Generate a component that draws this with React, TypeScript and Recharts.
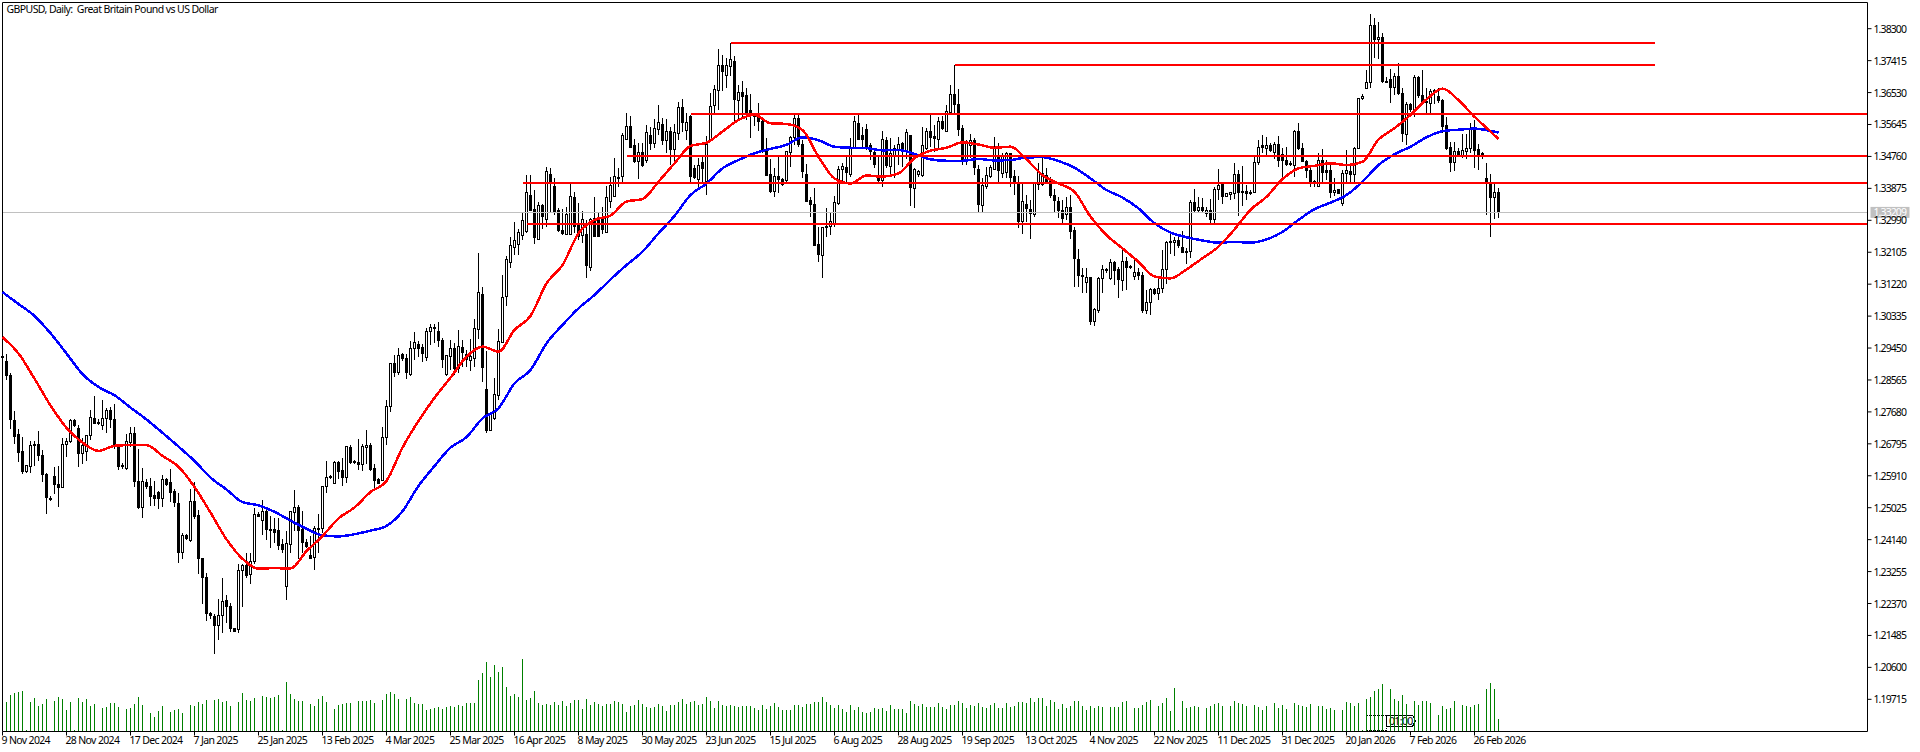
import React from 'react'
import {
  Bar,
  ComposedChart,
  Line,
  ReferenceLine,
  XAxis,
  YAxis,
} from 'recharts'

// all prices in 1/10000 of a dollar
const highs = [
  12923,12928,12875,12770,12720,12698,12620,12686,12687,12714,
  12662,12598,12535,12616,12618,12695,12696,12749,12749,12731,
  12697,12703,12773,12812,12747,12801,12780,12782,12789,12678,
  12627,12706,12727,12727,12666,12613,12581,12586,12576,12549,
  12593,12586,12611,12553,12542,12433,12431,12553,12575,12495,
  12364,12321,12213,12207,12249,12308,12260,12239,12170,12346,
  12346,12376,12378,12502,12491,12524,12503,12480,12475,12475,
  12415,12438,12491,12552,12509,12493,12415,12424,12452,12484,
  12564,12632,12592,12632,12632,12639,12672,12675,12634,12692,
  12678,12718,12683,12623,12586,12727,12801,12903,12926,12944,
  12930,12928,12965,12989,12965,12956,13000,13012,13012,13017,
  12972,12923,12967,12958,12995,12967,12940,12969,13025,13207,
  13115,12937,12769,12863,12997,13147,13200,13252,13293,13274,
  13318,13424,13424,13383,13350,13344,13446,13445,13415,13332,
  13329,13337,13399,13378,13346,13326,13300,13304,13364,13318,
  13335,13394,13420,13471,13443,13540,13595,13588,13523,13512,
  13512,13563,13558,13581,13618,13583,13581,13558,13566,13628,
  13634,13595,13591,13452,13473,13475,13533,13651,13674,13773,
  13757,13748,13790,13754,13674,13685,13665,13648,13595,13623,
  13586,13526,13469,13443,13480,13415,13489,13533,13591,13591,
  13521,13455,13364,13388,13281,13281,13332,13318,13366,13450,
  13459,13475,13526,13588,13591,13558,13566,13512,13498,13475,
  13546,13531,13526,13508,13531,13517,13551,13535,13443,13438,
  13558,13554,13591,13563,13584,13588,13618,13674,13729,13662,
  13562,13521,13538,13526,13452,13415,13448,13452,13531,13512,
  13485,13489,13486,13438,13422,13401,13369,13355,13406,13457,
  13475,13443,13420,13387,13364,13355,13363,13369,13281,13219,
  13166,13166,13143,13055,13141,13175,13168,13191,13186,13170,
  13217,13198,13175,13191,13168,13157,13106,13110,13110,13135,
  13217,13243,13263,13254,13255,13270,13221,13355,13385,13364,
  13360,13337,13358,13392,13441,13403,13376,13378,13457,13438,
  13449,13397,13383,13475,13521,13535,13529,13512,13517,13533,
  13498,13503,13464,13549,13568,13512,13466,13443,13411,13486,
  13496,13466,13457,13415,13387,13438,13494,13457,13503,13639,
  13648,13716,13870,13861,13849,13817,13697,13717,13706,13734,
  13665,13628,13623,13702,13699,13715,13665,13662,13662,13665,
  13635,13586,13517,13517,13498,13538,13538,13568,13577,13510,
  13489,13457,13427,13400,13388,
]

const lows = [
  12914,12856,12720,12678,12629,12597,12600,12600,12618,12631,
  12575,12486,12521,12541,12505,12559,12643,12683,12726,12616,
  12625,12632,12689,12737,12731,12718,12710,12724,12666,12607,
  12609,12607,12672,12560,12500,12475,12553,12507,12507,12500,
  12505,12564,12518,12505,12350,12361,12413,12408,12470,12318,
  12237,12188,12195,12098,12136,12156,12182,12159,12158,12156,
  12228,12307,12291,12346,12477,12426,12413,12392,12406,12385,
  12378,12247,12378,12438,12361,12378,12391,12361,12330,12378,
  12433,12544,12581,12570,12581,12564,12572,12623,12625,12606,
  12604,12623,12604,12558,12567,12576,12677,12769,12864,12871,
  12910,12860,12868,12912,12921,12907,12910,12953,12958,12949,
  12889,12868,12884,12870,12875,12893,12893,12880,12893,12969,
  12852,12709,12715,12745,12801,12960,13062,13166,13203,13203,
  13244,13265,13326,13233,13246,13274,13281,13323,13314,13267,
  13258,13258,13258,13263,13244,13235,13140,13159,13252,13252,
  13261,13263,13332,13364,13392,13403,13521,13498,13457,13413,
  13448,13457,13494,13500,13535,13508,13486,13452,13464,13521,
  13545,13521,13403,13413,13387,13406,13369,13517,13595,13605,
  13658,13665,13700,13572,13577,13586,13577,13526,13560,13547,
  13485,13424,13376,13364,13376,13394,13406,13448,13508,13503,
  13417,13351,13309,13228,13184,13140,13254,13258,13281,13341,
  13403,13403,13420,13497,13521,13498,13494,13466,13443,13403,
  13392,13443,13420,13415,13452,13448,13468,13339,13334,13420,
  13420,13494,13503,13489,13498,13549,13545,13595,13595,13533,
  13452,13452,13471,13425,13323,13320,13386,13415,13438,13405,
  13415,13415,13392,13369,13279,13261,13295,13248,13309,13383,
  13394,13406,13362,13318,13304,13291,13300,13248,13115,13115,
  13097,13098,13009,13007,13043,13097,13152,13133,13120,13085,
  13104,13106,13163,13133,13133,13043,13038,13036,13092,13078,
  13097,13122,13206,13200,13221,13207,13178,13194,13318,13318,
  13323,13309,13292,13291,13355,13343,13364,13355,13357,13311,
  13339,13355,13369,13374,13452,13485,13480,13489,13468,13448,
  13411,13450,13450,13420,13494,13460,13417,13392,13392,13392,
  13401,13411,13362,13367,13372,13339,13406,13406,13406,13496,
  13632,13663,13665,13748,13745,13680,13679,13625,13646,13647,
  13515,13508,13600,13586,13639,13618,13595,13595,13621,13623,
  13540,13494,13434,13436,13475,13473,13469,13485,13445,13438,
  13469,13314,13254,13303,13305,
]

const opens = [
  12919,12909,12868,12745,12706,12659,12604,12616,12674,12678,
  12648,12595,12529,12590,12567,12559,12678,12686,12745,12722,
  12652,12657,12703,12750,12738,12729,12749,12773,12748,12672,
  12620,12611,12683,12709,12576,12503,12572,12560,12535,12546,
  12527,12581,12572,12548,12515,12378,12426,12413,12521,12481,
  12363,12310,12208,12200,12175,12204,12244,12230,12169,12164,
  12329,12343,12317,12353,12485,12467,12491,12443,12441,12438,
  12401,12284,12401,12489,12504,12441,12407,12371,12364,12443,
  12444,12560,12586,12570,12629,12606,12586,12670,12630,12628,
  12623,12670,12676,12612,12581,12579,12697,12783,12901,12877,
  12926,12915,12873,12944,12955,12947,12918,12990,12999,12991,
  12967,12872,12921,12944,12889,12947,12914,12910,12916,12997,
  13092,12831,12716,12750,12813,12961,13089,13182,13224,13233,
  13256,13267,13369,13329,13247,13339,13302,13427,13394,13325,
  13272,13261,13261,13363,13291,13258,13261,13168,13304,13300,
  13304,13265,13351,13366,13417,13420,13523,13558,13506,13461,
  13487,13464,13535,13512,13551,13565,13521,13546,13494,13540,
  13612,13549,13588,13443,13412,13460,13406,13522,13616,13660,
  13729,13701,13725,13740,13631,13654,13646,13603,13586,13591,
  13572,13489,13427,13378,13420,13411,13408,13486,13529,13582,
  13510,13427,13353,13344,13232,13201,13281,13281,13289,13346,
  13440,13446,13425,13498,13566,13535,13551,13505,13486,13423,
  13408,13519,13448,13475,13494,13512,13489,13535,13387,13425,
  13423,13498,13546,13531,13523,13574,13546,13598,13648,13621,
  13554,13468,13506,13521,13441,13340,13392,13420,13441,13475,
  13429,13432,13485,13420,13399,13295,13344,13329,13316,13399,
  13399,13423,13406,13367,13352,13327,13316,13335,13270,13191,
  13146,13126,13141,13018,13050,13137,13163,13138,13182,13163,
  13132,13186,13170,13143,13155,13147,13048,13071,13106,13097,
  13110,13163,13237,13238,13244,13224,13212,13212,13349,13327,
  13335,13318,13327,13300,13385,13399,13366,13371,13374,13427,
  13379,13379,13376,13376,13459,13505,13497,13505,13486,13508,
  13482,13466,13457,13450,13546,13498,13463,13438,13407,13392,
  13465,13436,13436,13376,13383,13346,13429,13434,13426,13498,
  13636,13665,13681,13839,13799,13806,13685,13690,13667,13698,
  13651,13538,13620,13605,13696,13644,13628,13623,13658,13643,
  13632,13562,13502,13459,13491,13478,13491,13497,13551,13494,
  13485,13416,13401,13362,13376,
]

const closes = [
  12921,12868,12746,12701,12655,12604,12620,12675,12679,12648,
  12594,12530,12528,12566,12558,12678,12686,12745,12729,12652,
  12675,12703,12753,12737,12736,12750,12773,12746,12672,12618,
  12617,12685,12709,12574,12502,12576,12561,12533,12527,12527,
  12581,12567,12544,12516,12378,12426,12417,12521,12479,12361,
  12309,12209,12204,12175,12204,12243,12228,12168,12159,12329,
  12341,12316,12353,12484,12478,12491,12441,12438,12433,12399,
  12387,12404,12491,12504,12439,12406,12396,12363,12444,12444,
  12561,12586,12588,12629,12604,12586,12671,12629,12628,12622,
  12671,12675,12609,12579,12569,12698,12783,12901,12877,12925,
  12915,12877,12944,12961,12945,12930,12991,13002,13002,12965,
  12912,12923,12944,12889,12950,12934,12926,12921,13000,13099,
  12891,12716,12764,12815,12964,13086,13191,13228,13242,13266,
  13298,13377,13327,13252,13340,13309,13434,13406,13320,13270,
  13263,13314,13364,13281,13254,13300,13175,13300,13254,13254,
  13274,13363,13395,13420,13419,13533,13560,13500,13461,13487,
  13450,13543,13512,13554,13570,13520,13546,13494,13542,13612,
  13570,13571,13420,13417,13452,13443,13509,13614,13662,13727,
  13712,13727,13745,13634,13653,13641,13597,13591,13593,13574,
  13494,13424,13378,13420,13411,13397,13489,13529,13582,13508,
  13434,13351,13343,13230,13203,13279,13283,13295,13349,13440,
  13448,13431,13498,13572,13523,13523,13498,13489,13454,13408,
  13523,13452,13485,13498,13510,13494,13542,13389,13440,13434,
  13506,13546,13528,13526,13574,13554,13600,13648,13621,13551,
  13468,13512,13521,13445,13343,13396,13423,13445,13503,13436,
  13475,13485,13417,13406,13295,13351,13332,13318,13403,13434,
  13429,13406,13367,13353,13326,13304,13335,13267,13194,13146,
  13145,13141,13018,13053,13138,13163,13160,13182,13161,13134,
  13186,13168,13169,13154,13145,13048,13072,13106,13097,13110,
  13163,13238,13239,13242,13230,13210,13210,13349,13327,13335,
  13327,13326,13300,13385,13396,13364,13373,13376,13426,13376,
  13377,13373,13374,13460,13501,13502,13505,13492,13508,13464,
  13464,13454,13455,13546,13497,13462,13437,13404,13404,13465,
  13431,13431,13376,13382,13374,13429,13436,13427,13498,13637,
  13641,13681,13839,13799,13806,13683,13681,13667,13698,13650,
  13540,13620,13606,13696,13644,13623,13625,13655,13655,13630,
  13560,13498,13459,13490,13478,13493,13499,13554,13492,13478,
  13481,13403,13362,13376,13320,
]

const tickVolumes = [
  0,88,109,115,118,121,4,88,100,76,
  82,97,0,91,103,97,64,88,4,100,
  88,97,76,82,0,70,73,85,85,73,
  0,67,70,82,103,79,0,55,43,61,
  76,0,58,64,67,55,0,79,76,88,
  82,94,0,94,97,88,91,76,0,88,
  115,94,91,100,0,106,103,100,103,109,
  4,148,112,97,91,91,0,82,76,97,
  106,88,0,67,79,82,85,85,0,91,
  91,91,94,85,0,94,112,118,112,97,
  0,97,103,85,82,82,64,67,70,73,
  67,73,76,73,79,76,85,85,85,154,
  175,208,163,199,178,193,133,106,112,103,
  217,94,100,121,85,79,82,79,88,79,
  91,76,85,94,94,67,97,79,88,82,
  76,82,82,91,88,82,58,76,79,94,
  82,73,70,73,82,76,61,79,79,88,
  97,82,88,91,79,82,103,91,70,91,
  79,76,79,76,73,76,76,76,70,64,
  79,67,76,85,73,64,64,64,79,79,
  73,82,82,88,88,103,88,79,70,79,
  67,58,79,64,73,58,55,58,70,67,
  70,61,79,67,67,67,55,91,82,76,
  82,73,73,73,85,73,67,79,79,91,
  85,70,79,76,85,73,70,79,85,70,
  70,85,73,76,88,88,85,100,88,100,
  100,76,94,88,67,82,70,76,91,91,
  76,64,76,70,76,73,0,73,73,73,
  88,91,0,70,70,79,88,94,0,76,
  85,100,61,130,4,91,70,73,76,73,
  0,70,76,82,85,76,0,76,91,85,
  82,76,0,79,73,64,76,0,85,70,
  79,67,0,85,79,76,73,82,0,76,
  76,67,70,64,0,64,88,85,76,85,
  4,97,103,121,127,142,0,127,97,91,
  109,82,0,91,79,91,91,85,0,49,
  76,67,70,91,0,79,76,73,79,82,
  0,127,145,127,37,
]

// moving averages, read at every fourth bar and at the last one
const redAverage = [
  12975,12930,12860,12786,12724,12683,12660,12674,12676,12676,
  12646,12616,12560,12489,12415,12361,12334,12335,12334,12382,
  12424,12473,12503,12546,12577,12669,12743,12807,12863,12921,
  12949,12935,12995,13034,13124,13175,13263,13300,13312,13351,
  13358,13406,13457,13505,13514,13545,13577,13591,13568,13566,
  13549,13475,13415,13401,13423,13420,13429,13471,13492,13500,
  13515,13509,13500,13503,13468,13424,13401,13378,13309,13258,
  13221,13184,13143,13138,13163,13194,13226,13274,13328,13364,
  13413,13443,13450,13457,13452,13461,13523,13554,13591,13634,
  13664,13632,13586,13545,13524,
]

const blueAverage = [
  13100,13067,13034,12986,12930,12873,12837,12814,12780,12747,
  12710,12672,12632,12586,12553,12518,12509,12491,12467,12444,
  12426,12423,12429,12439,12452,12493,12563,12618,12669,12698,
  12750,12778,12847,12884,12958,13009,13055,13092,13135,13175,
  13212,13263,13311,13369,13401,13443,13466,13485,13497,13508,
  13529,13521,13503,13500,13499,13493,13494,13483,13468,13464,
  13464,13469,13465,13466,13473,13474,13463,13445,13415,13383,
  13362,13332,13291,13265,13252,13243,13237,13239,13237,13246,
  13267,13300,13330,13348,13369,13406,13452,13482,13503,13529,
  13546,13550,13553,13547,13542,
]

const dateLabels = [
  '9 Nov 2024', '28 Nov 2024', '17 Dec 2024', '7 Jan 2025', '25 Jan 2025',
  '13 Feb 2025', '4 Mar 2025', '25 Mar 2025', '16 Apr 2025', '8 May 2025',
  '30 May 2025', '23 Jun 2025', '15 Jul 2025', '6 Aug 2025', '28 Aug 2025',
  '19 Sep 2025', '13 Oct 2025', '4 Nov 2025', '22 Nov 2025', '11 Dec 2025',
  '31 Dec 2025', '20 Jan 2026', '7 Feb 2026', '26 Feb 2026',
]

const priceTicks = [
  1.383, 1.37415, 1.3653, 1.35645, 1.3476, 1.33875, 1.3299, 1.32105, 1.3122,
  1.30335, 1.2945, 1.28565, 1.2768, 1.26795, 1.2591, 1.25025, 1.2414, 1.23255,
  1.2237, 1.21485, 1.206, 1.19715,
]

// support / resistance levels: price, first bar, last bar
const levels = [
  { price: 1.37904, from: 182, to: 413 },
  { price: 1.37294, from: 238, to: 413 },
  { price: 1.35936, from: 172, to: 466.25 },
  { price: 1.34772, from: 156, to: 466.25 },
  { price: 1.34024, from: 130, to: 466.25 },
  { price: 1.32887, from: 131, to: 466.25 },
]

const lastPrice = 1.33209
const priceTop = 1.39026
const priceBottom = 1.18823
const barsAcross = 466.25
const barsPerLabel = 16

const chartData = highs.map((high, i) => {
  const averageIndex = i === highs.length - 1 ? redAverage.length - 1 : i / 4
  const sampled = i % 4 === 0 || i === highs.length - 1
  return {
    bar: i,
    open: opens[i] / 10000,
    close: closes[i] / 10000,
    range: [lows[i] / 10000, high / 10000],
    volume: tickVolumes[i],
    red: sampled ? redAverage[averageIndex] / 10000 : null,
    blue: sampled ? blueAverage[averageIndex] / 10000 : null,
  }
})

const fontFamily = '"Noto Sans", sans-serif'
const dateStyle = { fontFamily, fontSize: 10.5, letterSpacing: -0.65 }
const priceStyle = { fontFamily, fontSize: 10.5, letterSpacing: -0.9 }
const titleStyle = { fontFamily, fontSize: 10.5, letterSpacing: -0.58 }

function Candle(props: any) {
  const { x, y, width, height, payload } = props
  const [low, high] = payload.range
  const toY = (price: number) => y + ((high - price) / (high - low)) * height
  const up = payload.close >= payload.open
  const center = x + width / 2
  const top = toY(Math.max(payload.open, payload.close))
  const bottom = toY(Math.min(payload.open, payload.close))
  return (
    <g shapeRendering="crispEdges">
      <line x1={center} x2={center} y1={y} y2={y + height} stroke="#000" strokeWidth={1} />
      <rect
        x={center - 1}
        y={top}
        width={2}
        height={Math.max(bottom - top, 1)}
        fill={up ? '#fff' : '#000'}
        stroke="#000"
        strokeWidth={1}
      />
    </g>
  )
}

function VolumeBar(props: any) {
  const { x, y, width, height } = props
  return <rect x={Math.round(x)} y={y} width={width} height={height} fill="#008000" shapeRendering="crispEdges" />
}

function DateTick(props: any) {
  const { x, y, payload } = props
  return (
    <text x={x - 1} y={y + 8} fill="#000" style={dateStyle}>
      {dateLabels[payload.value / barsPerLabel]}
    </text>
  )
}

function PriceTick(props: any) {
  const { x, y, payload } = props
  return (
    <text x={x} y={y + 4} fill="#000" style={priceStyle}>
      {payload.value.toFixed(5)}
    </text>
  )
}

function LastPriceLabel(props: any) {
  const { viewBox } = props
  const y = viewBox.y
  const x = viewBox.x + viewBox.width
  return (
    <g>
      <rect x={x + 3} y={y - 5.5} width={39} height={11} fill="#c0c0c0" />
      <text x={x + 6} y={y + 4} fill="#fff" style={priceStyle}>
        {lastPrice.toFixed(5)}
      </text>
    </g>
  )
}

function SessionMarker() {
  const cards = [1366, 1370, 1374, 1378, 1382]
  return (
    <g shapeRendering="crispEdges">
      {cards.map((x) => (
        <rect key={x} x={x + 0.5} y={715.5} width={4} height={15} fill="#fff" stroke="#000" strokeDasharray="1 1" />
      ))}
      <path
        d="M1386.5 715.5 H1412.5 L1415.5 720.5 L1412.5 726.5 H1386.5 Z"
        fill="#fff"
        stroke="#000"
      />
      <text x={1389} y={725} fill="#000" style={dateStyle}>
        01:00
      </text>
    </g>
  )
}

export default function App() {
  return (
    <div style={{ position: 'absolute', left: 0, top: 0, width: 1920, height: 752, background: '#fff' }}>
      <ComposedChart
        width={1920}
        height={752}
        data={chartData}
        margin={{ top: 2.5, right: 0, bottom: 0, left: 2.5 }}
      >
        <XAxis
          type="number"
          dataKey="bar"
          domain={[0, barsAcross]}
          ticks={dateLabels.map((_, k) => k * barsPerLabel)}
          interval={0}
          height={20.5}
          axisLine={{ stroke: '#000' }}
          tickLine={{ stroke: '#000' }}
          tickSize={4}
          tickMargin={0}
          tick={<DateTick />}
        />
        <XAxis xAxisId="volume" type="number" dataKey="bar" domain={[0, barsAcross]} hide />
        <YAxis
          orientation="right"
          domain={[priceBottom, priceTop]}
          ticks={priceTicks}
          interval={0}
          width={52.5}
          axisLine={{ stroke: '#000' }}
          tickLine={{ stroke: '#000' }}
          tickSize={4}
          tickMargin={2}
          tick={<PriceTick />}
        />
        <YAxis yAxisId="volume" domain={[0, 2187]} hide />

        <ReferenceLine x={0} stroke="#000" />
        <ReferenceLine y={priceTop} stroke="#000" />
        <ReferenceLine
          y={lastPrice}
          stroke="#c0c0c0"
          shapeRendering="crispEdges"
          label={<LastPriceLabel />}
        />

        <Bar
          xAxisId="volume"
          yAxisId="volume"
          dataKey="volume"
          barSize={1}
          shape={<VolumeBar />}
          isAnimationActive={false}
        />
        <Bar dataKey="range" barSize={3} shape={<Candle />} isAnimationActive={false} />
        <Line
          type="monotone"
          dataKey="blue"
          stroke="#0000ff"
          strokeWidth={2.5}
          dot={false}
          connectNulls
          shapeRendering="crispEdges"
          isAnimationActive={false}
        />
        <Line
          type="monotone"
          dataKey="red"
          stroke="#ff0000"
          strokeWidth={2.5}
          dot={false}
          connectNulls
          shapeRendering="crispEdges"
          isAnimationActive={false}
        />
        {levels.map((level) => (
          <ReferenceLine
            key={level.price}
            segment={[
              { x: level.from, y: level.price },
              { x: level.to, y: level.price },
            ]}
            stroke="#ff0000"
            strokeWidth={2}
            shapeRendering="crispEdges"
          />
        ))}
        <text x={6.5} y={13} fill="#000" style={titleStyle}>
          {'GBPUSD, Daily:\u00a0\u00a0Great Britain Pound vs US Dollar'}
        </text>
        <SessionMarker />
      </ComposedChart>
    </div>
  )
}
